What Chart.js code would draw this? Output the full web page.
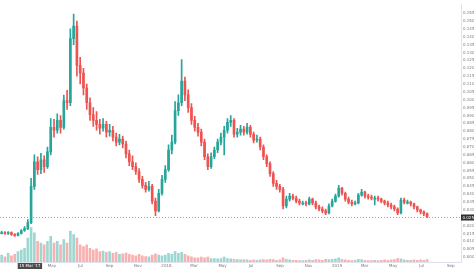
<!DOCTYPE html>
<html>
<head>
<meta charset="utf-8">
<script src="https://cdn.jsdelivr.net/npm/chart.js@4.4.1/dist/chart.umd.min.js"></script>
<style>
  html, body { margin: 0; padding: 0; background: #fff; }
  #wrap { width: 474px; height: 270px; }
</style>
</head>
<body>
<div id="wrap"><canvas id="chart" width="474" height="270"></canvas></div>
<script>
// weekly candles, first week starts 10 Jan 2017 (day 0)
const closes = [
  0.0156, 0.0150, 0.0156, 0.0144, 0.0138, 0.0150, 0.0169, 0.0181, 0.0219, 0.0450,
  0.0606, 0.0556, 0.0619, 0.0575, 0.0669, 0.0825, 0.0806, 0.0869, 0.0825, 0.0994,
  0.0981, 0.1388, 0.1469, 0.1219, 0.1169, 0.1075, 0.0981, 0.0906, 0.0869, 0.0844,
  0.0819, 0.0844, 0.0794, 0.0806, 0.0763, 0.0731, 0.0750, 0.0719, 0.0656, 0.0606,
  0.0575, 0.0544, 0.0494, 0.0456, 0.0431, 0.0450, 0.0356, 0.0294, 0.0406, 0.0494,
  0.0556, 0.0681, 0.0731, 0.0931, 0.0981, 0.1119, 0.1031, 0.0950, 0.0869, 0.0825,
  0.0794, 0.0731, 0.0638, 0.0575, 0.0638, 0.0681, 0.0731, 0.0763, 0.0806, 0.0856,
  0.0869, 0.0781, 0.0794, 0.0813, 0.0794, 0.0825, 0.0781, 0.0744, 0.0750, 0.0700,
  0.0638, 0.0594, 0.0531, 0.0469, 0.0450, 0.0431, 0.0325, 0.0369, 0.0388, 0.0375,
  0.0356, 0.0344, 0.0344, 0.0338, 0.0369, 0.0344, 0.0319, 0.0306, 0.0294, 0.0281,
  0.0325, 0.0356, 0.0388, 0.0438, 0.0406, 0.0369, 0.0350, 0.0338, 0.0344, 0.0394,
  0.0413, 0.0388, 0.0381, 0.0375, 0.0375, 0.0369, 0.0356, 0.0344, 0.0331, 0.0319,
  0.0306, 0.0281, 0.0363, 0.0350, 0.0350, 0.0338, 0.0319, 0.0300, 0.0288, 0.0275,
  0.0256
];
const highs = [
  0.0165, 0.0162, 0.0163, 0.0160, 0.0150, 0.0156, 0.0175, 0.0194, 0.0238, 0.0500,
  0.0650, 0.0638, 0.0660, 0.0644, 0.0700, 0.0880, 0.0875, 0.0910, 0.0900, 0.1030,
  0.1060, 0.1450, 0.1544, 0.1500, 0.1269, 0.1200, 0.1100, 0.1013, 0.0950, 0.0925,
  0.0875, 0.0881, 0.0863, 0.0844, 0.0831, 0.0788, 0.0781, 0.0769, 0.0738, 0.0681,
  0.0644, 0.0600, 0.0563, 0.0513, 0.0475, 0.0481, 0.0463, 0.0375, 0.0431, 0.0519,
  0.0581, 0.0713, 0.0775, 0.0988, 0.1031, 0.1256, 0.1144, 0.1063, 0.0975, 0.0894,
  0.0850, 0.0813, 0.0750, 0.0656, 0.0663, 0.0700, 0.0750, 0.0788, 0.0831, 0.0881,
  0.0900, 0.0881, 0.0819, 0.0838, 0.0831, 0.0850, 0.0838, 0.0794, 0.0775, 0.0763,
  0.0713, 0.0650, 0.0606, 0.0544, 0.0488, 0.0463, 0.0444, 0.0388, 0.0406, 0.0400,
  0.0388, 0.0369, 0.0356, 0.0356, 0.0381, 0.0375, 0.0356, 0.0331, 0.0319, 0.0306,
  0.0338, 0.0369, 0.0400, 0.0456, 0.0444, 0.0413, 0.0381, 0.0363, 0.0356, 0.0406,
  0.0431, 0.0419, 0.0400, 0.0394, 0.0388, 0.0388, 0.0375, 0.0363, 0.0356, 0.0344,
  0.0331, 0.0313, 0.0375, 0.0375, 0.0363, 0.0356, 0.0344, 0.0325, 0.0306, 0.0294,
  0.0281
];
const lows = [
  0.0148, 0.0144, 0.0145, 0.0138, 0.0131, 0.0134, 0.0146, 0.0163, 0.0175, 0.0213,
  0.0431, 0.0525, 0.0531, 0.0538, 0.0563, 0.0650, 0.0763, 0.0788, 0.0788, 0.0813,
  0.0938, 0.0963, 0.1350, 0.1150, 0.1100, 0.1031, 0.0938, 0.0869, 0.0831, 0.0806,
  0.0781, 0.0800, 0.0763, 0.0769, 0.0738, 0.0706, 0.0713, 0.0694, 0.0631, 0.0581,
  0.0556, 0.0525, 0.0475, 0.0438, 0.0413, 0.0419, 0.0338, 0.0263, 0.0288, 0.0394,
  0.0475, 0.0544, 0.0656, 0.0719, 0.0900, 0.0963, 0.0994, 0.0919, 0.0844, 0.0800,
  0.0769, 0.0706, 0.0619, 0.0556, 0.0563, 0.0625, 0.0663, 0.0713, 0.0650, 0.0788,
  0.0831, 0.0763, 0.0763, 0.0775, 0.0775, 0.0781, 0.0763, 0.0725, 0.0731, 0.0681,
  0.0619, 0.0575, 0.0513, 0.0450, 0.0431, 0.0413, 0.0306, 0.0313, 0.0356, 0.0363,
  0.0344, 0.0331, 0.0331, 0.0325, 0.0331, 0.0331, 0.0306, 0.0294, 0.0281, 0.0269,
  0.0275, 0.0319, 0.0350, 0.0381, 0.0394, 0.0356, 0.0338, 0.0325, 0.0331, 0.0338,
  0.0388, 0.0375, 0.0369, 0.0363, 0.0331, 0.0356, 0.0344, 0.0331, 0.0319, 0.0306,
  0.0294, 0.0269, 0.0275, 0.0338, 0.0338, 0.0325, 0.0306, 0.0288, 0.0275, 0.0263,
  0.0250
];
const volumes = [
  20, 15, 25, 18, 22, 30, 35, 40, 70, 100,
  85, 60, 55, 50, 60, 75, 55, 60, 50, 65,
  55, 90, 80, 70, 50, 45, 50, 40, 35, 38,
  30, 32, 28, 30, 25, 28, 22, 24, 26, 22,
  20, 18, 22, 18, 16, 15, 20, 24, 20, 18,
  20, 25, 22, 30, 25, 28, 22, 18, 15, 12,
  12, 14, 12, 14, 10, 10, 9, 10, 14, 10,
  9, 8, 7, 6, 7, 6, 5, 6, 5, 6,
  7, 6, 8, 7, 5, 6, 12, 8, 6, 5,
  5, 4, 4, 5, 6, 5, 7, 6, 5, 8,
  7, 8, 9, 12, 8, 6, 5, 4, 5, 8,
  7, 5, 4, 4, 5, 4, 5, 6, 5, 6,
  7, 10, 9, 6, 5, 5, 6, 5, 6, 5,
  7
];
const firstOpen = 0.0156;

// bottom axis: day offsets of month starts and their labels
const tickDays = [111, 172, 234, 295, 356, 415, 476, 537, 599, 660, 721, 780, 841, 902, 964];
const tickLabels = ['May', 'Jul', 'Sep', 'Nov', '2018', 'Mar', 'May', 'Jul', 'Sep', 'Nov', '2019', 'Mar', 'May', 'Jul', 'Sep'];
const crosshairDay = 64;
const crosshairLabel = "15 Mar '17";

const UP = '#26a69a', DOWN = '#ef5350';
const UP_VOL = 'rgba(38,166,154,0.45)', DOWN_VOL = 'rgba(239,83,80,0.45)';
const FONT = '"DejaVu Sans", Arial';

const opens = closes.map((c, i) => i === 0 ? firstOpen : closes[i - 1]);
const dayOf = i => 7 * i + 3.5;
const isUp = i => closes[i] >= opens[i];

const bodyData = closes.map((c, i) => ({ x: dayOf(i), y: [opens[i], c] }));
const wickData = closes.map((c, i) => ({ x: dayOf(i), y: [lows[i], highs[i]] }));
const volData = volumes.map((v, i) => ({ x: dayOf(i), y: v }));
const colors = closes.map((c, i) => isUp(i) ? UP : DOWN);
const volColors = closes.map((c, i) => isUp(i) ? UP_VOL : DOWN_VOL);

// last price line + crosshair date box, drawn by hand like TradingView
const overlay = {
  id: 'overlay',
  afterDraw(chart) {
    const { ctx, chartArea: a, scales: { x, y } } = chart;
    const last = closes[closes.length - 1];
    const py = Math.round(y.getPixelForValue(last)) + 0.5;
    ctx.save();
    ctx.strokeStyle = 'rgba(200,110,110,0.8)';
    ctx.setLineDash([1, 2]);
    ctx.lineWidth = 1;
    ctx.beginPath();
    ctx.moveTo(a.left, py);
    ctx.lineTo(a.right, py);
    ctx.stroke();
    ctx.setLineDash([]);

    ctx.font = '4px ' + FONT;
    ctx.textBaseline = 'middle';
    ctx.fillStyle = '#2f2f2f';
    ctx.fillRect(a.right, py - 3, 474 - a.right, 6);
    ctx.fillStyle = '#fff';
    ctx.textAlign = 'left';
    ctx.fillText(last.toFixed(5), a.right + 1.5, py);

    const cx = x.getPixelForValue(crosshairDay);
    const w = ctx.measureText(crosshairLabel).width + 3;
    ctx.fillStyle = '#4a4a4a';
    ctx.fillRect(cx - w / 2, a.bottom + 1, w, 6);
    ctx.fillStyle = '#fff';
    ctx.textAlign = 'center';
    ctx.fillText(crosshairLabel, cx, a.bottom + 4);
    ctx.restore();
  }
};

new Chart(document.getElementById('chart'), {
  type: 'bar',
  data: {
    datasets: [
      { data: bodyData, backgroundColor: colors, barThickness: 2, minBarLength: 1, order: 1, yAxisID: 'y' },
      { data: wickData, backgroundColor: colors, barThickness: 1, order: 2, yAxisID: 'y' },
      { data: volData, backgroundColor: volColors, barThickness: 2, order: 3, yAxisID: 'vol' }
    ]
  },
  options: {
    responsive: false,
    animation: false,
    layout: { padding: 0 },
    datasets: { bar: { grouped: false } },
    plugins: { legend: { display: false }, tooltip: { enabled: false } },
    scales: {
      x: {
        type: 'linear',
        offset: false,
        min: 0,
        max: 986,
        grid: { display: false, drawTicks: false },
        border: { display: true, color: '#e0e3eb' },
        afterBuildTicks: axis => { axis.ticks = tickDays.map(v => ({ value: v })); },
        afterFit: axis => { axis.height = 8; },
        ticks: {
          autoSkip: false,
          maxRotation: 0,
          padding: 2,
          color: '#7a7a7a',
          font: { size: 4, family: FONT },
          callback: (v) => tickLabels[tickDays.indexOf(v)]
        }
      },
      y: {
        position: 'right',
        min: -0.0031,
        max: 0.1606,
        grid: { display: false, drawTicks: false },
        border: { display: true, color: '#e0e3eb' },
        afterBuildTicks: axis => {
          axis.ticks = axis.ticks.filter(t => t.value > -1e-9 && t.value < 0.1601 &&
            Math.abs(t.value / 0.005 - Math.round(t.value / 0.005)) < 1e-6);
        },
        afterFit: axis => { axis.width = 13; },
        ticks: {
          stepSize: 0.005,
          padding: 2,
          color: '#7a7a7a',
          font: { size: 4, family: FONT },
          callback: v => v.toFixed(5)
        }
      },
      vol: {
        display: false,
        min: 0,
        max: 750
      }
    }
  },
  plugins: [overlay]
});
</script>
</body>
</html>
